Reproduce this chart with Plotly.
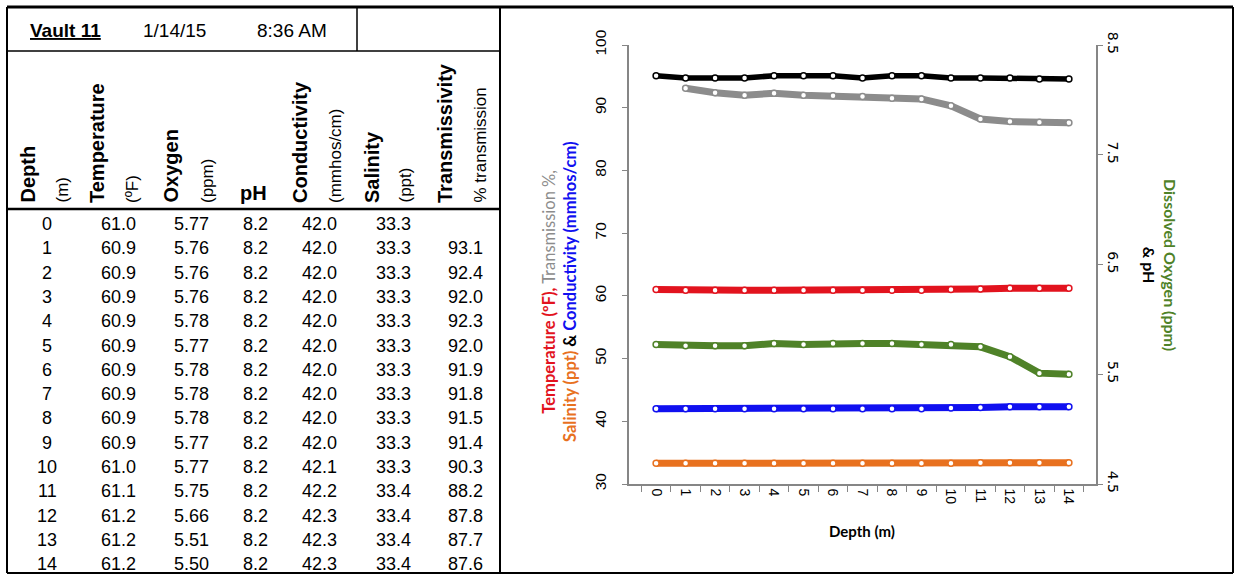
import plotly.graph_objects as go

W, H = 1235, 576

# ---------------- data ----------------
depth = [0, 1, 2, 3, 4, 5, 6, 7, 8, 9, 10, 11, 12, 13, 14]
temperature = [61.0, 60.9, 60.9, 60.9, 60.9, 60.9, 60.9, 60.9, 60.9, 60.9, 61.0, 61.1, 61.2, 61.2, 61.2]
oxygen = [5.77, 5.76, 5.76, 5.76, 5.78, 5.77, 5.78, 5.78, 5.78, 5.77, 5.77, 5.75, 5.66, 5.51, 5.50]
ph = [8.22, 8.20, 8.20, 8.20, 8.22, 8.22, 8.22, 8.20, 8.22, 8.22, 8.20, 8.20, 8.20, 8.19, 8.19]
conductivity = [42.0, 42.0, 42.0, 42.0, 42.0, 42.0, 42.0, 42.0, 42.0, 42.0, 42.1, 42.2, 42.3, 42.3, 42.3]
salinity = [33.3, 33.3, 33.3, 33.3, 33.3, 33.3, 33.3, 33.3, 33.3, 33.3, 33.3, 33.4, 33.4, 33.4, 33.4]
transmission = [None, 93.1, 92.4, 92.0, 92.3, 92.0, 91.9, 91.8, 91.5, 91.4, 90.3, 88.2, 87.8, 87.7, 87.6]

title_parts = ["<u><b>Vault 11</b></u>", "1/14/15", "8:36 AM"]
header_names = ["Depth", "Temperature", "Oxygen", "pH", "Conductivity", "Salinity", "Transmissivity"]
header_units = ["(m)", "(ºF)", "(ppm)", "", "(mmhos/cm)", "(ppt)", "% transmission"]
left_ticks = [30, 40, 50, 60, 70, 80, 90, 100]
right_ticks = [4.5, 5.5, 6.5, 7.5, 8.5]

# ---------------- helpers ----------------
def px(x):
    return x / W

def py(y):
    return 1 - y / H

ARIAL = "Liberation Sans, Arial, sans-serif"
CAL = "Lato, Open Sans, sans-serif"

RED = "#E2131E"
GREEN = "#4F8228"
BLUE = "#1010F0"
ORANGE = "#E8711F"
GRAY = "#8C8C8C"
BLACK = "#000000"

xcat = [str(d) for d in depth]

fig = go.Figure()

def add_series(y, color, axis, name, lw=7):
    fig.add_trace(go.Scatter(
        x=xcat, y=y, mode="lines+markers", name=name, yaxis=axis,
        line=dict(color=color, width=lw),
        marker=dict(symbol="circle", size=6, color="white", line=dict(color=color, width=1.5)),
        connectgaps=False, showlegend=False, hoverinfo="skip"))

add_series(transmission, GRAY, "y", "Transmission")
add_series(temperature, RED, "y", "Temperature")
add_series(conductivity, BLUE, "y", "Conductivity")
add_series(salinity, ORANGE, "y", "Salinity")
add_series(ph, BLACK, "y2", "pH", lw=5.5)
add_series(oxygen, GREEN, "y2", "Oxygen")

x0p, x1p = px(629), px(1096)
ybot, ytop = py(484), py(45)

fig.update_layout(
    width=W, height=H,
    margin=dict(l=0, r=0, t=0, b=0, pad=0, autoexpand=False),
    paper_bgcolor="white", plot_bgcolor="white",
    showlegend=False,
    xaxis=dict(
        domain=[x0p, x1p], type="category", tickson="boundaries",
        ticks="outside", ticklen=6, tickcolor="#868686",
        showline=True, linecolor="#868686", linewidth=1.5,
        showgrid=False, zeroline=False, tickangle=90,
        tickfont=dict(family=ARIAL, size=14, color="black"),
        anchor="y",
    ),
    yaxis=dict(
        domain=[ybot, ytop], range=[30, 100], tickvals=left_ticks,
        ticks="outside", ticklen=5, tickcolor="#868686",
        showline=True, linecolor="#868686", linewidth=1.5,
        showgrid=False, zeroline=False, tickangle=-90,
        ticklabelstandoff=10,
        tickfont=dict(family=ARIAL, size=15.5, color="black"),
    ),
    yaxis2=dict(
        domain=[ybot, ytop], range=[4.5, 8.5], tickvals=right_ticks,
        tickformat=".1f", overlaying="y", side="right", anchor="x",
        ticks="outside", ticklen=5, tickcolor="#868686",
        showline=True, linecolor="#868686", linewidth=1.5,
        showgrid=False, zeroline=False, tickangle=90,
        tickfont=dict(family="DejaVu Sans, Verdana, sans-serif", size=14, color="black"),
    ),
)

ann = []
# axis titles
ann.append(dict(
    x=px(862), y=py(531), xref="paper", yref="paper", showarrow=False,
    text="<b>Depth (m)</b>", font=dict(family=CAL, size=15, color="black"),
    xanchor="center", yanchor="middle"))
ann.append(dict(
    x=px(559), y=py(292), xref="paper", yref="paper", showarrow=False, textangle=-90,
    text=(f"<b><span style='color:{RED}'>Temperature (ºF),</span></b> "
          f"<span style='color:{GRAY}'>Transmission %,</span><br>"
          f"<b><span style='color:{ORANGE}'>Salinity (ppt)</span> &amp; "
          f"<span style='color:{BLUE}'>Conductivity (mmhos/cm)</span></b>"),
    font=dict(family=CAL, size=16.5, color="black"), align="center",
    xanchor="center", yanchor="middle"))
ann.append(dict(
    x=px(1160), y=py(265), xref="paper", yref="paper", showarrow=False, textangle=90,
    text=(f"<b><span style='color:{GREEN}'>Dissolved Oxygen (ppm)</span><br>&amp; pH</b>"),
    font=dict(family=CAL, size=16, color="black"), align="center",
    xanchor="center", yanchor="middle"))

# table title row
title_x = [65, 174, 292]
for t, x in zip(title_parts, title_x):
    ann.append(dict(x=px(x), y=py(30), xref="paper", yref="paper", showarrow=False,
                    text=t, font=dict(family=ARIAL, size=19, color="black"),
                    xanchor="center", yanchor="middle"))

# header row
name_x = [27, 97, 170, 253, 300, 372, 445]
unit_x = [62, 132, 207, None, 335, 405, 480]
for name, unit, nx, ux in zip(header_names, header_units, name_x, unit_x):
    if name == "pH":
        ann.append(dict(x=px(nx), y=py(206), xref="paper", yref="paper", showarrow=False,
                        text="<b>pH</b>", font=dict(family=ARIAL, size=20, color="black"),
                        xanchor="center", yanchor="bottom"))
        continue
    ann.append(dict(x=px(nx), y=py(205), xref="paper", yref="paper", showarrow=False,
                    textangle=-90, text=f"<b>{name}</b>",
                    font=dict(family=ARIAL, size=20, color="black"),
                    xanchor="center", yanchor="bottom"))
    if unit:
        ann.append(dict(x=px(ux), y=py(205), xref="paper", yref="paper", showarrow=False,
                        textangle=-90, text=unit,
                        font=dict(family=ARIAL, size=17, color="black"),
                        xanchor="center", yanchor="bottom"))

# data rows
col_x = [47, 118, 191, 255, 319, 393, 465]
for i, d in enumerate(depth):
    yv = py(224 + i * 24.3)
    cells = [
        f"{d}",
        f"{temperature[i]:.1f}",
        f"{oxygen[i]:.2f}",
        f"{ph[i]:.1f}",
        f"{conductivity[i]:.1f}",
        f"{salinity[i]:.1f}",
        "" if transmission[i] is None else f"{transmission[i]:.1f}",
    ]
    for c, x in zip(cells, col_x):
        if c == "":
            continue
        ann.append(dict(x=px(x), y=yv, xref="paper", yref="paper", showarrow=False,
                        text=c, font=dict(family=ARIAL, size=18, color="black"),
                        xanchor="center", yanchor="middle"))

fig.update_layout(annotations=ann)

# frame lines
def line(xa, ya, xb, yb, w):
    return dict(type="line", xref="paper", yref="paper",
                x0=px(xa), y0=py(ya), x1=px(xb), y1=py(yb),
                line=dict(color="black", width=w))

shapes = [
    line(7, 7, 1233, 7, 3),
    line(7, 573, 1233, 573, 2),
    line(7, 7, 7, 573, 2),
    line(1233, 7, 1233, 573, 2),
    line(500, 7, 500, 573, 2),
    line(7, 51, 500, 51, 1.5),
    line(357, 7, 357, 51, 1.5),
    line(7, 209, 500, 209, 2.5),
]
fig.update_layout(shapes=shapes)

fig.write_html("out.html")
